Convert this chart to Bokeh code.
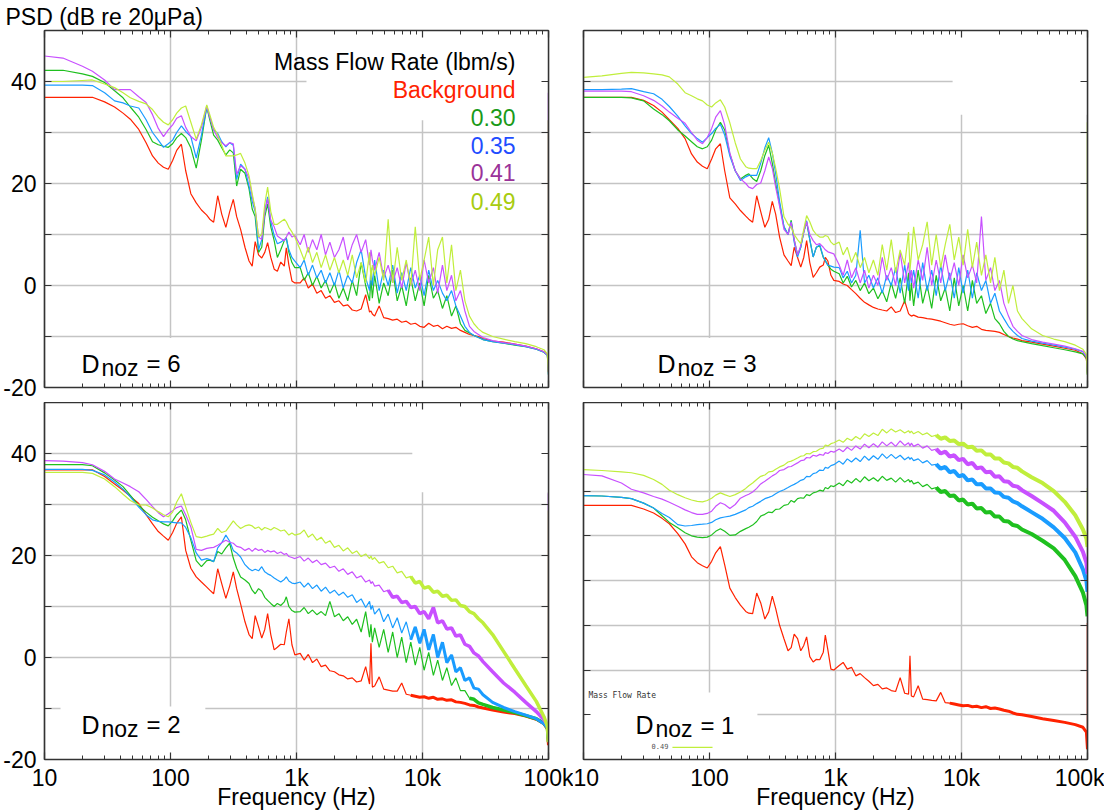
from bokeh.plotting import figure
from bokeh.layouts import gridplot
from bokeh.models import (Range1d, FixedTicker, LinearAxis, LogAxis, Label, BoxAnnotation,
                          ColumnDataSource, CustomJSTickFormatter)
from bokeh.embed import file_html
from bokeh.resources import INLINE

FONT = "Liberation Sans"

# ---------------- data ----------------
FREQ_LO = [10, 14, 20, 24, 30, 36, 42, 48,
           56, 64, 72, 80, 88, 96, 104, 112,
           122, 132, 145, 160, 176, 194, 205, 220,
           237, 255, 275, 295, 315, 335, 360, 390,
           420, 445, 470, 500, 530, 560, 590, 625,
           665, 705, 750, 800, 830, 870, 920, 970]
FREQ_HI = [1070, 1150, 1240, 1340, 1450, 1570, 1700, 1840,
           2000, 2170, 2350, 2550, 2770, 3000, 3260, 3540,
           3800, 3900, 4000, 4170, 4530, 4920, 5340, 5800,
           6300, 6840, 7430, 8070, 8760, 9510, 10300, 11200,
           12200, 13200, 14400, 15600, 17000, 18400, 20000, 21700,
           23600, 25600, 27800, 30200, 36000, 44000, 54000, 66000,
           80000, 92000, 98000, 100000]
FREQ = FREQ_LO + FREQ_HI

SERIES = ["Background", "0.30", "0.35", "0.41", "0.49"]
LEGEND_TITLE = "Mass Flow Rate (lbm/s)"
Y_TITLE = "PSD (dB re 20\u03bcPa)"
X_TITLE = "Frequency (Hz)"

# D_noz = 6
D6_BG = [36.9, 36.9, 36.9, 36.9, 36.0, 35.0, 33.8, 32.6,
         30.6, 28.0, 25.4, 24.0, 23.2, 22.8, 24.5, 26.5,
         27.7, 22.5, 18.0, 16.2, 14.8, 13.8, 13.0, 12.4,
         17.6, 14.0, 11.4, 14.5, 16.9, 13.5, 11.0, 7.5,
         4.8, 3.8, 8.6, 6.0, 5.4, 6.5, 8.4, 5.5,
         3.2, 2.8, 4.6, 3.8, 7.4, 4.0, 0.9, 0.5] + \
        [0.5, 1.5, -0.5, 0.3, -1.5, -1.0, -2.5, -2.0,
         -3.3, -3.0, -4.0, -3.8, -4.8, -5.0, -4.6, -1.8,
         -5.2, -5.0, -5.6, -6.0, -4.0, -6.3, -6.5, -6.8,
         -6.6, -7.2, -7.0, -7.6, -7.4, -8.0, -8.2, -7.4,
         -8.0, -7.8, -8.5, -8.0, -8.4, -8.2, -8.8, -9.2,
         -9.6, -9.8, -10.0, -10.4, -10.9, -11.1, -11.5, -11.9,
         -12.4, -13.0, -13.6, -17.0]
D6_030 = [42.2, 42.2, 41.5, 41.0, 39.8, 38.2, 36.8, 35.0,
          33.0, 30.6, 28.2, 27.6, 27.3, 27.1, 27.8, 29.0,
          29.8, 29.0, 27.0, 23.0, 28.5, 35.0, 32.5, 29.5,
          28.5, 27.0, 25.6, 26.6, 26.0, 19.5, 22.8, 22.0,
          19.0, 15.0, 13.5, 6.5, 7.5, 13.5, 16.0, 11.5,
          8.8, 5.5, 7.0, 8.8, 9.4, 6.5, 4.5, 3.5] + \
         [3.5, 1.0, 2.5, 0.0, 1.8, -0.5, 1.0, -1.5,
          0.5, -2.5, -0.5, -3.0, 1.0, -2.0, 4.5, 0.0,
          -3.0, 1.5, -2.5, 2.0, -3.5, 0.5, -2.0, 3.0,
          -3.0, 0.0, -4.0, 1.5, -3.0, 0.5, -4.0, 2.0,
          -2.5, -1.0, -4.5, -2.0, -6.0, -4.0, -7.5, -8.8,
          -9.3, -9.8, -10.2, -10.6, -11.0, -11.3, -11.7, -12.0,
          -12.5, -13.1, -13.7, -17.5]
D6_035 = [39.3, 39.3, 39.3, 39.2, 37.8, 36.2, 35.8, 35.2,
          34.8, 32.5, 30.0, 28.5, 27.1, 27.8, 28.5, 30.0,
          31.3, 30.2, 29.2, 25.0, 29.5, 35.0, 33.0, 30.5,
          29.8, 28.2, 27.2, 28.0, 27.5, 20.8, 23.8, 22.8,
          19.5, 16.5, 14.5, 7.0, 9.0, 14.5, 17.4, 12.5,
          9.8, 8.2, 8.5, 9.0, 9.2, 7.0, 5.5, 4.8] + \
         [3.5, 5.0, 2.0, 4.0, 1.5, 3.0, 0.5, 2.5,
          0.0, 3.0, -0.5, 2.0, 0.5, 4.5, 7.0, 1.5,
          -1.0, 3.5, 0.0, 5.0, -1.0, 3.0, 0.0, 4.0,
          -1.5, 2.5, -1.0, 3.5, -0.5, 2.0, -2.0, 3.0,
          -1.0, 1.0, -1.5, -3.0, -1.0, -4.0, -6.0, -8.0,
          -9.2, -9.8, -10.2, -10.6, -11.0, -11.3, -11.6, -12.0,
          -12.5, -13.1, -13.7, -17.5]
D6_041 = [45.0, 44.6, 43.0, 42.0, 40.3, 38.4, 38.4, 38.4,
          37.0, 35.9, 33.5, 30.8, 29.2, 30.5, 31.5, 32.8,
          33.3, 31.0, 29.2, 28.4, 31.0, 35.2, 33.0, 30.5,
          29.0, 28.0, 27.4, 28.0, 27.8, 21.8, 23.5, 22.8,
          21.0, 17.5, 15.0, 9.5, 9.0, 14.5, 17.0, 12.8,
          11.5, 9.7, 9.2, 8.8, 9.5, 10.5, 9.5, 9.8] + \
         [8.0, 10.0, 6.5, 9.0, 7.0, 10.0, 6.0, 8.5,
          5.5, 7.0, 9.5, 5.0, 8.0, 10.0, 6.5, 9.0,
          4.0, 7.0, 5.0, 3.0, 6.5, 1.5, 4.0, 0.5,
          3.5, -0.5, 4.5, 0.0, 3.0, -1.0, 5.0, 0.5,
          3.5, -1.5, 4.0, -1.0, 2.0, -3.0, -1.0, -5.0,
          -8.0, -9.0, -9.6, -10.2, -10.8, -11.2, -11.5, -11.9,
          -12.4, -13.0, -13.6, -17.0]
D6_049 = [40.0, 40.0, 40.2, 40.3, 39.5, 38.8, 37.8, 36.8,
          36.1, 35.6, 34.5, 33.0, 32.0, 31.5, 32.5, 33.8,
          34.8, 35.2, 32.0, 28.7, 31.5, 35.4, 33.5, 31.0,
          29.5, 27.5, 25.4, 25.4, 25.4, 25.6, 25.9, 24.0,
          21.5, 18.0, 15.0, 9.5, 10.0, 16.0, 19.3, 14.5,
          12.0, 12.0, 12.5, 13.0, 12.5, 11.4, 10.5, 9.5] + \
         [7.0, 5.0, 7.5, 4.5, 6.5, 3.5, 6.0, 3.0,
          5.5, 2.5, 5.0, 2.0, 6.0, 1.5, 4.5, 0.5,
          6.5, 1.0, 4.0, 2.0, 5.5, 1.0, 13.0, 0.5,
          7.5, 1.0, 5.0, 0.0, 11.5, 1.0, 5.0, 9.5,
          0.0, 7.0, 9.5, 0.5, 8.0, -1.0, 3.0, -3.0,
          -6.0, -7.5, -8.5, -9.2, -10.0, -10.5, -11.0, -11.4,
          -12.0, -12.6, -13.4, -17.0]

# D_noz = 3
D3_BG = [36.9, 36.9, 36.9, 36.9, 36.3, 35.3, 34.0, 32.5,
         30.8, 28.8, 25.8, 24.2, 23.4, 22.9, 24.8, 26.8,
         27.8, 22.5, 17.2, 16.0, 14.7, 13.6, 13.0, 12.4,
         17.6, 14.5, 11.4, 13.0, 16.5, 14.0, 9.5, 6.0,
         4.8, 3.9, 7.5, 5.5, 3.6, 5.5, 8.8, 4.5,
         1.6, 2.5, 3.6, 4.0, 5.5, 4.8, 2.0, 1.0] + \
        [0.8, 0.3, 0.0, -0.8, -1.6, -2.5, -3.3, -3.8,
         -4.3, -4.6, -4.8, -5.0, -4.2, -5.3, -5.0, -3.0,
         -5.5, -5.8, -6.0, -5.8, -6.2, -6.3, -6.5, -6.6,
         -6.8, -7.0, -7.3, -7.6, -7.8, -7.6, -7.5, -7.9,
         -8.2, -8.0, -8.6, -8.8, -8.9, -9.0, -9.2, -9.6,
         -10.0, -10.3, -10.5, -10.8, -11.1, -11.5, -11.9, -12.3,
         -12.7, -13.4, -14.4, -17.3]
D3_030 = [36.9, 36.9, 36.9, 36.8, 36.2, 34.6, 33.5, 32.3,
          30.5, 29.3, 28.2, 27.2, 26.8, 27.2, 28.5, 30.5,
          32.0, 30.5, 25.8, 22.5, 20.9, 21.6, 21.9, 21.0,
          20.4, 22.5, 25.5, 27.5, 24.0, 20.0, 16.0, 11.5,
          10.0, 12.8, 9.0, 6.0, 7.5, 10.5, 12.4, 9.0,
          5.6, 7.5, 7.8, 5.5, 4.9, 4.0, 3.2, 2.8] + \
         [2.3, 0.5, 1.8, -0.3, 1.0, -1.0, 0.5, -1.6,
          -0.5, -2.6, -1.0, -3.2, 0.5, -2.5, 1.5, -3.5,
          2.5, -3.0, 0.5, -4.0, 3.0, -3.5, 0.0, -4.5,
          2.0, -3.0, -0.5, -5.0, 1.5, -4.0, 0.0, -5.0,
          1.0, -3.5, -2.0, -5.5, -3.5, -6.5, -7.5, -9.0,
          -10.0, -10.5, -10.8, -11.0, -11.4, -11.8, -12.2, -12.6,
          -13.0, -13.4, -14.2, -17.5]
D3_035 = [38.4, 38.4, 38.5, 38.6, 38.0, 37.6, 36.5, 35.1,
          33.2, 31.3, 29.8, 28.8, 28.1, 29.0, 29.8, 30.8,
          31.6, 29.5, 25.4, 22.5, 20.6, 21.3, 21.6, 21.6,
          21.6, 24.0, 27.0, 29.0, 26.0, 22.0, 16.5, 11.5,
          10.0, 12.5, 8.5, 5.6, 7.5, 10.5, 12.7, 9.0,
          5.6, 7.5, 8.0, 5.6, 4.8, 4.0, 3.8, 3.6] + \
         [3.5, 1.5, 2.8, 0.5, 2.0, 10.8, 0.5, 2.0,
          -0.5, 1.5, -1.5, 2.0, 0.0, 3.5, -1.5, 4.0,
          -1.0, 3.0, 0.5, 3.0, -2.5, 4.5, -1.0, 3.0,
          -2.0, 4.0, -1.0, 2.5, -2.5, 3.5, -1.5, 3.0,
          -2.5, 2.5, -1.0, 1.0, -3.5, -1.5, -5.0, -6.5,
          -8.0, -9.0, -9.8, -10.4, -10.9, -11.3, -11.7, -12.1,
          -12.5, -13.0, -14.0, -17.5]
D3_041 = [38.1, 38.1, 38.1, 38.0, 37.2, 36.3, 35.2, 34.0,
          32.8, 31.8, 30.0, 28.5, 27.8, 29.0, 30.8, 33.0,
          34.3, 31.5, 26.0, 22.5, 20.9, 20.0, 19.3, 19.0,
          19.8, 20.1, 22.5, 25.2, 23.0, 19.3, 15.5, 11.0,
          10.0, 12.4, 9.0, 6.0, 7.8, 10.5, 12.5, 10.0,
          8.8, 8.0, 8.2, 7.5, 7.0, 6.6, 6.4, 6.2] + \
         [4.0, 2.0, 5.0, 1.5, 3.5, 0.5, 3.0, -0.5,
          2.0, 0.0, 5.5, 1.0, 3.5, 0.0, 6.5, 0.5,
          4.5, 1.0, 3.0, -0.5, 5.0, 1.0, 7.5, 0.0,
          5.0, 0.5, 6.0, 1.0, 4.5, 0.0, 6.0, 1.5,
          4.0, 0.5, 13.5, 1.0, 3.5, -1.0, 1.0, -3.5,
          -6.0, -8.0, -9.0, -9.8, -10.6, -11.1, -11.5, -11.9,
          -12.4, -12.9, -13.9, -17.0]
D3_049 = [40.8, 41.1, 41.6, 41.8, 41.7, 41.5, 41.3, 40.9,
          39.5, 37.8, 37.2, 36.6, 36.2, 35.4, 35.0, 35.8,
          36.4, 35.0, 31.9, 28.0, 24.8, 23.3, 23.0, 22.9,
          22.9, 24.5, 26.5, 28.1, 26.0, 23.0, 19.0, 13.5,
          12.0, 11.4, 10.0, 9.0, 8.2, 11.0, 13.7, 12.5,
          10.8, 10.0, 9.5, 9.5, 9.8, 9.6, 8.5, 8.0] + \
         [8.5, 6.0, 7.5, 4.5, 6.5, 3.5, 5.5, 2.5,
          5.0, 2.0, 8.0, 3.0, 9.0, 2.5, 7.0, 4.0,
          10.5, 3.0, 6.0, 11.5, 5.0, 8.0, 12.5, 4.0,
          10.0, 3.5, 8.0, 12.0, 5.0, 9.5, 4.0, 11.0,
          3.5, 8.5, 2.0, 6.0, 0.5, 5.5, -1.0, 3.0,
          -3.5, 0.0, -5.0, -6.5, -8.5, -9.8, -10.5, -11.0,
          -11.7, -12.5, -13.5, -17.5]

# D_noz = 2
D2_BG = [36.8, 36.8, 36.8, 36.8, 35.5, 34.0, 32.8, 31.6,
         30.2, 28.0, 26.2, 24.7, 23.8, 23.0, 24.5, 26.3,
         27.6, 21.0, 17.5, 15.8, 14.8, 13.8, 13.2, 12.5,
         17.4, 14.5, 11.6, 14.0, 16.8, 13.5, 10.5, 7.0,
         4.5, 3.7, 8.2, 6.0, 3.8, 5.5, 8.6, 4.5,
         1.5, 2.0, 2.6, 2.5, 5.0, 7.6, 2.5, 0.5] + \
        [0.8, -0.5, 0.6, -1.0, -0.3, -1.8, -1.5, -2.6,
         -2.8, -3.4, -3.6, -4.2, -4.0, -4.8, -4.6, -1.8,
         -5.2, 2.8, -5.8, -5.6, -3.8, -6.2, -6.4, -6.6,
         -6.6, -5.0, -7.2, -7.4, -7.6, -7.8, -7.7, -8.0,
         -7.8, -8.2, -8.1, -8.4, -8.3, -8.7, -8.8, -9.0,
         -9.3, -9.4, -9.7, -9.9, -10.3, -10.7, -11.0, -11.5,
         -12.1, -13.0, -14.0, -17.2]
D2_030 = [37.8, 37.8, 37.8, 37.6, 36.2, 34.8, 33.5, 31.8,
          29.8, 28.5, 27.5, 26.8, 26.2, 25.8, 26.8, 28.0,
          28.9, 27.0, 23.0, 19.0, 17.8, 19.0, 19.1, 18.8,
          20.8, 20.3, 21.5, 22.4, 19.5, 17.5, 15.8, 15.2,
          14.5, 13.2, 12.5, 13.5, 13.0, 11.8, 11.2, 10.6,
          10.0, 10.6, 10.2, 10.9, 11.9, 10.0, 9.2, 8.9] + \
         [9.0, 9.8, 8.6, 9.3, 8.4, 9.0, 8.2, 11.0,
          8.0, 8.6, 7.2, 8.0, 6.5, 7.5, 5.0, 9.0,
          4.0, 6.5, 3.0, 5.8, 2.0, 5.5, 1.0, 5.0,
          0.0, 4.0, -1.0, 3.0, -1.5, 2.0, -2.5, 1.0,
          -3.5, -0.5, -4.5, -2.0, -5.5, -4.0, -6.5, -6.5,
          -8.0, -8.2, -8.9, -9.2, -9.8, -10.3, -10.8, -11.4,
          -12.0, -12.9, -13.8, -16.5]
D2_035 = [36.9, 36.9, 36.9, 36.7, 35.8, 34.4, 33.0, 31.5,
          29.5, 28.0, 27.0, 26.7, 26.6, 26.6, 26.5, 26.4,
          26.4, 25.5, 23.5, 20.5, 19.1, 19.4, 19.2, 18.8,
          21.5, 22.5, 24.0, 22.8, 21.0, 20.5, 19.7, 18.2,
          17.4, 17.0, 17.3, 17.0, 17.8, 16.8, 16.4, 16.1,
          15.6, 15.2, 14.8, 15.3, 15.8, 15.0, 14.6, 14.5] + \
         [14.8, 13.8, 14.6, 13.5, 14.2, 13.0, 13.8, 12.6,
          13.2, 12.2, 12.8, 11.8, 12.3, 10.8, 11.5, 9.8,
          11.0, 9.4, 10.2, 8.5, 9.6, 7.0, 8.5, 5.8,
          7.8, 4.8, 7.0, 3.5, 6.0, 2.8, 5.5, 1.5,
          4.5, 0.0, 3.0, -1.0, 0.5, -2.8, -2.0, -4.5,
          -4.0, -6.0, -6.2, -7.3, -8.8, -9.8, -10.6, -11.3,
          -12.0, -13.0, -13.8, -16.0]
D2_041 = [38.6, 38.5, 38.2, 37.8, 36.5, 35.0, 34.2, 33.5,
          32.5, 31.0, 29.6, 28.4, 27.6, 28.2, 28.8, 29.4,
          29.7, 28.0, 25.6, 21.2, 21.0, 21.4, 21.5, 21.6,
          22.0, 22.5, 23.0, 22.6, 22.4, 21.8, 21.6, 21.0,
          21.4, 20.8, 21.4, 21.0, 21.2, 20.6, 21.0, 20.7,
          20.9, 20.4, 20.7, 20.2, 20.4, 19.8, 19.6, 19.4] + \
         [19.8, 18.9, 19.5, 18.6, 19.1, 18.2, 18.5, 17.6,
          17.9, 16.9, 17.4, 16.3, 16.8, 15.6, 16.0, 14.8,
          15.2, 14.5, 14.9, 14.0, 14.2, 12.9, 13.2, 11.8,
          12.0, 10.8, 11.0, 9.8, 10.0, 8.6, 9.0, 7.6,
          9.8, 6.8, 7.2, 5.6, 5.8, 4.2, 4.4, 2.6,
          2.2, 0.9, 0.3, -0.8, -2.8, -5.0, -6.8, -8.8,
          -10.6, -12.2, -13.2, -15.0]
D2_049 = [36.3, 36.3, 36.3, 36.1, 35.0, 33.5, 32.0, 30.8,
          29.9, 29.9, 29.3, 28.6, 28.0, 27.6, 28.5, 30.5,
          32.1, 29.5, 26.5, 23.7, 23.5, 23.8, 24.0, 24.2,
          25.3, 24.5, 24.8, 25.8, 26.8, 26.0, 25.3, 25.8,
          26.0, 25.8, 25.3, 25.6, 25.0, 25.5, 25.3, 25.0,
          25.5, 25.2, 24.8, 25.0, 24.6, 24.0, 24.4, 24.0] + \
         [24.3, 25.0, 23.6, 24.2, 23.0, 23.6, 22.4, 22.9,
          21.6, 22.0, 20.9, 21.5, 20.4, 20.9, 19.8, 20.3,
          19.4, 19.9, 19.2, 19.6, 18.5, 18.8, 17.6, 17.9,
          16.6, 16.9, 15.6, 15.9, 14.6, 14.9, 13.6, 13.9,
          12.8, 13.0, 12.0, 12.2, 11.2, 11.3, 10.2, 10.0,
          9.0, 8.6, 7.6, 6.8, 4.5, 1.2, -2.2, -5.5,
          -8.6, -11.6, -13.5, -16.6]

# D_noz = 1
D1_BG = [36.8, 36.8, 36.8, 36.8, 36.0, 35.1, 33.9, 32.7,
         30.5, 28.2, 25.3, 24.0, 23.3, 22.8, 24.3, 26.2,
         27.6, 23.5, 18.3, 16.2, 14.5, 13.1, 12.7, 12.6,
         17.2, 15.0, 11.4, 13.0, 16.5, 13.8, 10.0, 7.0,
         4.3, 5.0, 8.0, 7.0, 4.3, 5.5, 7.4, 3.0,
         1.8, 2.4, 2.3, 4.0, 7.8, 4.5, 0.2, 0.0] + \
        [1.0, 1.7, 0.2, 0.6, -1.3, -0.8, -1.7, -2.5,
         -3.5, -3.2, -4.2, -4.0, -4.6, -4.8, -1.7, -5.2,
         -5.4, 3.2, -5.8, -6.0, -3.5, -6.5, -6.6, -6.8,
         -6.9, -5.0, -7.3, -7.4, -7.6, -7.8, -8.0, -7.9,
         -8.2, -8.1, -8.4, -8.2, -8.6, -8.5, -8.7, -9.0,
         -9.2, -9.6, -9.9, -10.0, -10.4, -10.9, -11.3, -11.7,
         -12.2, -12.8, -13.9, -17.7]
D1_030 = [39.0, 38.9, 38.6, 38.3, 37.3, 36.2, 34.5, 33.0,
          31.8, 30.7, 30.0, 29.7, 29.6, 29.7, 30.2, 31.0,
          31.6, 31.0, 30.1, 30.2, 31.0, 31.6, 31.9, 32.4,
          33.2, 34.4, 34.8, 35.3, 35.2, 35.9, 36.0, 36.8,
          37.0, 37.9, 37.5, 38.3, 38.5, 38.4, 39.2, 39.0,
          39.6, 39.8, 40.2, 40.0, 40.8, 40.5, 41.2, 41.0] + \
         [41.8, 41.2, 42.4, 41.8, 42.8, 42.0, 43.2, 42.3,
          43.0, 42.2, 43.3, 42.4, 42.9, 42.0, 43.0, 42.0,
          42.6, 42.0, 42.4, 41.6, 42.0, 41.0, 41.5, 40.5,
          40.8, 39.8, 40.0, 38.9, 39.0, 37.9, 38.1, 37.0,
          37.2, 36.1, 36.2, 35.2, 35.3, 34.3, 34.3, 33.3,
          33.2, 32.4, 32.2, 31.4, 30.4, 28.9, 27.2, 24.6,
          21.0, 17.3, 14.5, 12.0]
D1_035 = [39.0, 38.9, 38.6, 38.3, 37.3, 36.2, 35.0, 34.1,
          32.5, 32.2, 32.3, 32.5, 32.6, 32.7, 33.0, 33.6,
          34.0, 34.2, 34.4, 34.8, 35.3, 35.8, 36.3, 36.6,
          37.2, 37.7, 38.3, 38.6, 38.9, 39.4, 39.9, 40.3,
          40.8, 41.2, 41.5, 41.9, 42.4, 42.6, 43.3, 43.2,
          43.9, 44.1, 44.7, 44.6, 45.3, 45.1, 45.7, 45.9] + \
         [46.7, 46.0, 47.2, 46.5, 47.4, 46.6, 47.8, 46.9,
          47.9, 47.1, 48.3, 47.3, 48.2, 47.3, 48.0, 47.0,
          47.6, 47.1, 47.5, 46.8, 47.2, 46.3, 46.8, 45.8,
          46.0, 45.0, 45.4, 44.2, 44.5, 43.3, 43.6, 42.4,
          42.6, 41.5, 41.6, 40.6, 40.6, 39.7, 39.6, 38.7,
          38.5, 37.7, 37.3, 36.6, 35.3, 33.8, 31.9, 29.5,
          26.3, 22.5, 20.0, 17.5]
D1_041 = [43.7, 43.4, 41.8, 40.4, 39.6, 38.8, 38.2, 37.5,
          36.6, 35.8, 35.2, 34.8, 34.8, 35.0, 35.5, 36.6,
          37.4, 37.0, 36.1, 37.0, 38.4, 39.0, 39.3, 39.8,
          40.6, 41.6, 42.2, 42.8, 43.4, 43.8, 44.6, 44.8,
          45.4, 45.5, 45.9, 46.3, 46.8, 46.9, 47.5, 47.4,
          48.0, 47.8, 48.2, 48.0, 48.6, 48.4, 48.9, 48.7] + \
         [49.4, 48.8, 49.8, 49.1, 50.1, 49.4, 50.5, 49.7,
          50.6, 49.8, 51.0, 50.1, 50.9, 50.0, 51.2, 50.2,
          50.8, 50.1, 50.7, 50.0, 50.5, 49.6, 50.1, 49.1,
          49.4, 48.4, 48.8, 47.7, 48.0, 46.9, 47.2, 46.0,
          46.3, 45.1, 45.3, 44.2, 44.3, 43.2, 43.3, 42.2,
          42.1, 41.2, 41.0, 40.2, 38.9, 37.3, 35.6, 33.0,
          29.8, 26.4, 24.0, 21.5]
D1_049 = [44.8, 44.6, 44.3, 44.1, 43.5, 42.6, 41.5, 40.2,
          39.2, 38.5, 38.0, 37.7, 37.6, 37.9, 38.4, 39.1,
          39.6, 39.2, 38.8, 39.2, 39.8, 40.6, 41.2, 41.8,
          42.6, 43.3, 43.6, 44.3, 44.4, 44.9, 45.4, 45.8,
          46.5, 46.7, 47.0, 47.4, 47.8, 47.9, 48.4, 48.3,
          48.8, 48.9, 49.4, 49.6, 50.3, 50.1, 50.6, 50.8] + \
         [51.4, 50.9, 51.8, 51.3, 52.2, 51.6, 52.8, 52.2,
          53.0, 52.4, 53.8, 53.0, 53.9, 53.2, 53.7, 53.0,
          53.5, 53.0, 53.4, 52.8, 53.3, 52.6, 53.0, 52.2,
          52.5, 51.7, 52.0, 51.2, 51.3, 50.5, 50.6, 49.8,
          49.9, 49.0, 49.1, 48.2, 48.2, 47.3, 47.3, 46.4,
          46.2, 45.4, 45.2, 44.4, 43.1, 41.8, 40.0, 37.6,
          34.6, 31.4, 29.4, 27.5]

# vertical traces at the right edge of each panel (top value, dB)
EDGE_D6 = {"0.41": 37.8, "0.49": 32.4}
EDGE_D3 = {"0.49": 32.0}
EDGE_D2 = {"0.41": 32.2, "0.49": 28.8}
EDGE_D1 = {"Background": 10.5, "0.49": 40.7}

for arr in (D6_BG, D6_030, D6_035, D6_041, D6_049, D3_BG, D3_030, D3_035, D3_041, D3_049,
            D2_BG, D2_030, D2_035, D2_041, D2_049, D1_BG, D1_030, D1_035, D1_041, D1_049):
    assert len(arr) == len(FREQ), len(arr)

# ---------------- style ----------------
LINE_COLOR = {"Background": "#ff2200", "0.30": "#1fc01f", "0.35": "#1a9cff",
              "0.41": "#c850ff", "0.49": "#c0ee3c"}
TEXT_COLOR = {"Background": "#ff2200", "0.30": "#199a19", "0.35": "#1f4dff",
              "0.41": "#9a3399", "0.49": "#a8cc10"}
X_TICKS = [10, 100, 1000, 10000, 100000]
X_TICK_LABELS = ["10", "100", "1k", "10k", "100k"]
X_MINOR = [m * d for d in (10, 100, 1000, 10000) for m in range(2, 10)]
AXIS_COLOR = "#333333"
GRID_COLOR = "#c4c4c4"

XFMT_CODE = """
for (let i = 0; i < xt.length; i++) {
  if (Math.abs(Math.log10(tick) - Math.log10(xt[i])) < 1e-6) { return xl[i]; }
}
return "";
"""


def x_formatter():
    return CustomJSTickFormatter(args=dict(xt=X_TICKS, xl=X_TICK_LABELS), code=XFMT_CODE)


def style_axis(ax, show_labels):
    ax.major_tick_in = 7
    ax.major_tick_out = 0
    ax.minor_tick_in = 4
    ax.minor_tick_out = 0
    ax.axis_line_color = AXIS_COLOR
    ax.axis_line_width = 1.5
    ax.major_tick_line_color = AXIS_COLOR
    ax.minor_tick_line_color = AXIS_COLOR
    ax.major_tick_line_width = 1.2
    ax.major_label_text_font = FONT
    if show_labels:
        ax.major_label_text_font_size = "23px"
        ax.major_label_text_color = "black"
    else:
        ax.major_label_text_font_size = "1px"
        ax.major_label_text_alpha = 0.0
        ax.major_label_standoff = 0


def make_panel(data, edge, thick, y_end, y_ticks, borders, x_labels, y_labels,
               dnoz, d_anchor, masks):
    bl, br, bt, bb = borders
    p = figure(x_axis_type="log", x_range=Range1d(10, 100000), y_range=Range1d(-20, y_end),
               frame_width=504, frame_height=357,
               min_border_left=bl, min_border_right=br, min_border_top=bt, min_border_bottom=bb,
               output_backend="svg", toolbar_location=None)
    p.background_fill_color = "white"
    p.border_fill_color = "white"
    p.outline_line_color = AXIS_COLOR
    p.outline_line_width = 1.2

    bottom_ax = p.below[0]
    left_ax = p.left[0]
    bottom_ax.ticker = FixedTicker(ticks=X_TICKS, minor_ticks=X_MINOR)
    bottom_ax.formatter = x_formatter()
    left_ax.ticker = FixedTicker(ticks=y_ticks, minor_ticks=[])
    top_ax = LogAxis(ticker=FixedTicker(ticks=X_TICKS, minor_ticks=X_MINOR), formatter=x_formatter())
    right_ax = LinearAxis(ticker=FixedTicker(ticks=y_ticks, minor_ticks=[]))
    p.add_layout(top_ax, "above")
    p.add_layout(right_ax, "right")
    style_axis(bottom_ax, x_labels)
    style_axis(left_ax, y_labels)
    style_axis(top_ax, False)
    style_axis(right_ax, False)
    if x_labels:
        bottom_ax.major_label_standoff = 5
        bottom_ax.axis_label = X_TITLE
        bottom_ax.axis_label_text_font = FONT
        bottom_ax.axis_label_text_font_size = "23px"
        bottom_ax.axis_label_text_font_style = "normal"
        bottom_ax.axis_label_text_color = "black"
        bottom_ax.axis_label_standoff = -10
    if y_labels:
        left_ax.major_label_standoff = 8
        left_ax.major_label_overrides = {t: (str(t) if t % 20 == 0 else "") for t in y_ticks}

    for g in (p.xgrid[0], p.ygrid[0]):
        g.grid_line_color = GRID_COLOR
        g.grid_line_width = 1.5

    for (l, r, b, t) in masks:
        p.add_layout(BoxAnnotation(left=l, right=r, bottom=b, top=t, fill_color="white",
                                   fill_alpha=1.0, line_color=None, level="underlay"))

    for name, ys in zip(SERIES, data):
        src = ColumnDataSource(dict(f=FREQ, db=ys))
        p.line("f", "db", source=src, line_color=LINE_COLOR[name], line_width=1.2)
        if name in thick:
            f0, w = thick[name]
            i0 = FREQ.index(f0)
            p.line(FREQ[i0:], ys[i0:], line_color=LINE_COLOR[name], line_width=w)
        if name in edge:
            p.segment(x0=[FREQ[-1]], y0=[ys[-1]], x1=[FREQ[-1]], y1=[edge[name]],
                      line_color=LINE_COLOR[name], line_width=1.5)

    ax, ay = d_anchor
    p.add_layout(Label(x=ax, y=ay, x_offset=2, text="D", text_font=FONT, text_font_size="25px",
                       text_color="black", text_baseline="alphabetic"))
    p.add_layout(Label(x=ax, y=ay, x_offset=22, y_offset=-4, text="noz", text_font=FONT,
                       text_font_size="23px", text_color="black", text_baseline="alphabetic"))
    p.add_layout(Label(x=ax, y=ay, x_offset=67, text="= " + dnoz, text_font=FONT,
                       text_font_size="24px", text_color="black", text_baseline="alphabetic"))
    return p


Y_TICKS_STD = [-20, -10, 0, 10, 20, 30, 40]
Y_TICKS_D1 = [-20, -10, 0, 10, 20, 30, 40, 50]

p6 = make_panel([D6_BG, D6_030, D6_035, D6_041, D6_049], EDGE_D6, {}, 50, Y_TICKS_STD,
                (44, 25, 30, 15), False, True, "6", (18.95, -15.35),
                [(1200, 100000, 32.4, 50), (12, 600, -19.9, -10.3)])
p3 = make_panel([D3_BG, D3_030, D3_035, D3_041, D3_049], EDGE_D3, {}, 50, Y_TICKS_STD,
                (10, 17, 30, 15), False, False, "3", (37.3, -15.35),
                [(8500, 100000, 33.5, 50), (12, 600, -19.9, -10.3)])
THICK_D2 = {"Background": (8070, 3), "0.30": (23600, 3.5), "0.35": (8070, 3),
            "0.41": (5340, 3.5), "0.49": (8070, 3.5)}
p2 = make_panel([D2_BG, D2_030, D2_035, D2_041, D2_049], EDGE_D2, THICK_D2, 50, Y_TICKS_STD,
                (44, 25, 0, 46), True, True, "2", (18.95, -13.2),
                [(8300, 100000, 32.4, 50), (13.4, 189, -19.9, -9.6)])
THICK_D1 = {"Background": (8070, 3), "0.30": (6300, 4), "0.35": (6300, 4),
            "0.41": (6300, 4), "0.49": (6300, 4)}
p1 = make_panel([D1_BG, D1_030, D1_035, D1_041, D1_049], EDGE_D1, THICK_D1, 59.8, Y_TICKS_D1,
                (10, 17, 0, 46), True, False, "1", (24.9, -12.3),
                [(10.5, 240, -19.9, -5.0)])

# header (title of the upper-left panel)
p6.title.text = Y_TITLE
p6.title.text_font = FONT
p6.title.text_font_size = "23px"
p6.title.text_font_style = "normal"
p6.title.text_color = "black"
p6.title.align = "left"
p6.title.offset = -39
p6.title.standoff = 1

# legend (upper-left panel)
LEG_Y = [43.8, 38.3, 33.0, 27.4, 22.1, 16.5]
p6.add_layout(Label(x=54700, y=LEG_Y[0], text=LEGEND_TITLE, text_font=FONT, text_font_size="23px",
                    text_color="black", text_align="right", text_baseline="alphabetic"))
for name, yy in zip(SERIES, LEG_Y[1:]):
    p6.add_layout(Label(x=54700, y=yy, text=name, text_font=FONT, text_font_size="23px",
                        text_color=TEXT_COLOR[name], text_align="right", text_baseline="alphabetic"))

# small leftover legend fragments in the lower-right panel
p1.add_layout(Label(x=10.96, y=-5.6, text="Mass Flow Rate", text_font="DejaVu Sans Mono",
                    text_font_size="8px", text_color="#333333", text_baseline="alphabetic"))
p1.add_layout(Label(x=34.7, y=-17.0, text="0.49", text_font="DejaVu Sans Mono",
                    text_font_size="7px", text_color="#555555", text_baseline="alphabetic"))
p1.segment(x0=[50.8], y0=[-17.3], x1=[105.7], y1=[-17.3], line_color=LINE_COLOR["0.49"], line_width=1.2)

grid = gridplot([[p6, p3], [p2, p1]], toolbar_location=None)

open("out.html", "w").write(file_html(grid, INLINE))
